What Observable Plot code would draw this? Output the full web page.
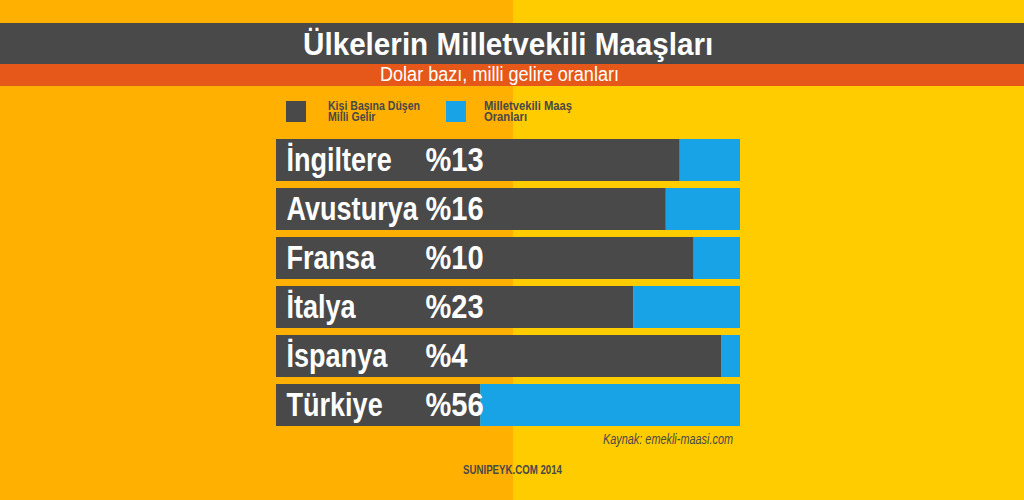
<!DOCTYPE html>
<html>
<head>
<meta charset="utf-8">
<script src="https://cdn.jsdelivr.net/npm/d3@7"></script>
<script src="https://cdn.jsdelivr.net/npm/@observablehq/plot@0.6"></script>
<style>
  html, body { margin: 0; padding: 0; }
  #page {
    position: relative; width: 1024px; height: 500px; overflow: hidden;
    background: linear-gradient(to right, #FFB000 0, #FFB000 513px, #FFCC00 513px, #FFCC00 100%);
    font-family: "Liberation Sans", Arial, sans-serif;
  }
  .abs { position: absolute; white-space: nowrap; }
  .fit { display: inline-block; transform-origin: 0 0; }
  #band1 { left: 0; top: 23px; width: 1024px; height: 41px; background: #494949; }
  #band2 { left: 0; top: 64px; width: 1024px; height: 22px; background: #E5581A; }
  #title { top: 28.8px; font-size: 30.5px; line-height: 31px; font-weight: bold; color: #fff; }
  #subtitle { top: 65.4px; font-size: 19.5px; line-height: 19.5px; color: #fff; }
  .sw { width: 20px; height: 21px; top: 101px; }
  .lg { font-size: 12px; line-height: 11px; font-weight: bold; color: #494949; }
  #caption { top: 433.4px; font-size: 13.8px; line-height: 13.8px; font-style: italic; color: #494949; }
  #credit { top: 463.6px; font-size: 12.5px; line-height: 12.5px; font-weight: bold; color: #494949; }
  #chart { position: absolute; left: 0; top: 0; }
</style>
</head>
<body>
<div id="page">
  <div id="band1" class="abs"></div>
  <div id="band2" class="abs"></div>
  <div id="title" class="abs fit"></div>
  <div id="subtitle" class="abs fit"></div>
  <div id="sw1" class="abs sw"></div>
  <div id="lg1a" class="abs lg fit" style="top:100.6px"></div>
  <div id="lg1b" class="abs lg fit" style="top:111.6px"></div>
  <div id="sw2" class="abs sw"></div>
  <div id="lg2a" class="abs lg fit" style="top:100.6px"></div>
  <div id="lg2b" class="abs lg fit" style="top:111.6px"></div>
  <div id="chart"></div>
  <div id="caption" class="abs fit"></div>
  <div id="credit" class="abs fit"></div>
</div>
<script>
// ---- Data ----
const titleText = "Ülkelerin Milletvekili Maaşları";
const subtitleText = "Dolar bazı, milli gelire oranları";
const countries = ["İngiltere", "Avusturya", "Fransa", "İtalya", "İspanya", "Türkiye"];
const ratios = [13, 16, 10, 23, 4, 56]; // MP salary as % of national income per head (blue share)
const seriesNames = ["Kişi Başına Düşen Milli Gelir", "Milletvekili Maaş Oranları"];
const seriesLegendLines = [["Kişi Başına Düşen", "Milli Gelir"], ["Milletvekili Maaş", "Oranları"]];
const seriesColors = ["#494949", "#17A3E5"];
const captionText = "Kaynak: emekli-maasi.com";
const creditText = "SUNIPEYK.COM 2014";

// ---- HTML texts (condensed by horizontal scaling to match the narrow typeface) ----
function fit(id, text, left, width, scale) {
  const el = document.getElementById(id);
  el.textContent = text;
  el.style.left = left + "px";
  const w = el.getBoundingClientRect().width;
  el.style.transform = `scaleX(${scale != null ? scale : width / w})`;
}
fit("title", titleText, 302.7, 410.3);
fit("subtitle", subtitleText, 380, 239);
// legend: same horizontal scale for both lines of one entry
function legend(ids, lines, left, width) {
  const a = document.getElementById(ids[0]);
  a.textContent = lines[0];
  const s = width / a.getBoundingClientRect().width;
  fit(ids[0], lines[0], left, 0, s);
  fit(ids[1], lines[1], left, 0, s);
}
legend(["lg1a", "lg1b"], seriesLegendLines[0], 328.3, 92);
legend(["lg2a", "lg2b"], seriesLegendLines[1], 484, 88);
fit("caption", captionText, 603, 130);
fit("credit", creditText, 463, 99);
const sw1 = document.getElementById("sw1"); sw1.style.left = "286px"; sw1.style.background = seriesColors[0];
const sw2 = document.getElementById("sw2"); sw2.style.left = "446px"; sw2.style.background = seriesColors[1];

// ---- Table for Plot ----
const rows = [];
countries.forEach((c, i) => {
  rows.push({country: c, series: seriesNames[0], value: 100 - ratios[i]});
  rows.push({country: c, series: seriesNames[1], value: ratios[i]});
});
const labels = countries.map((c, i) => ({country: c, ratio: ratios[i]}));

const font = '"Liberation Sans", Arial, sans-serif';
const marginLeft = 276;

const chart = Plot.plot({
  width: 1024,
  height: 500,
  marginLeft,
  marginRight: 284,
  marginTop: 138,
  marginBottom: 73.3,
  style: {background: "transparent", fontFamily: font},
  x: {domain: [0, 100], axis: null},
  y: {domain: countries, paddingInner: 0.15, paddingOuter: 0, axis: null},
  color: {domain: seriesNames, range: seriesColors},
  marks: [
    Plot.barX(rows, Plot.stackX({x: "value", y: "country", fill: "series", order: seriesNames})),
    Plot.text(labels, {
      y: "country", text: "country", frameAnchor: "left", dx: 10, textAnchor: "start",
      fill: "white", fontSize: 33, fontWeight: "bold", fontFamily: font, className: "name-label"
    }),
    Plot.text(labels, {
      y: "country", text: d => "%" + d.ratio, frameAnchor: "left", dx: 149, textAnchor: "start",
      fill: "white", fontSize: 33, fontWeight: "bold", fontFamily: font, className: "pct-label"
    })
  ]
});
// condense the bar-label groups horizontally about their start (narrow bold typeface)
const textGroups = d3.select(chart).selectAll('g[aria-label="text"]').nodes();
const squeeze = [0.82, 0.88];
textGroups.forEach((g, i) => {
  const old = g.getAttribute("transform") || "";
  g.setAttribute("transform",
    `${old} translate(${marginLeft},0) scale(${squeeze[i]},1) translate(${-marginLeft},0)`);
});
document.getElementById("chart").appendChild(chart);
</script>
</body>
</html>
